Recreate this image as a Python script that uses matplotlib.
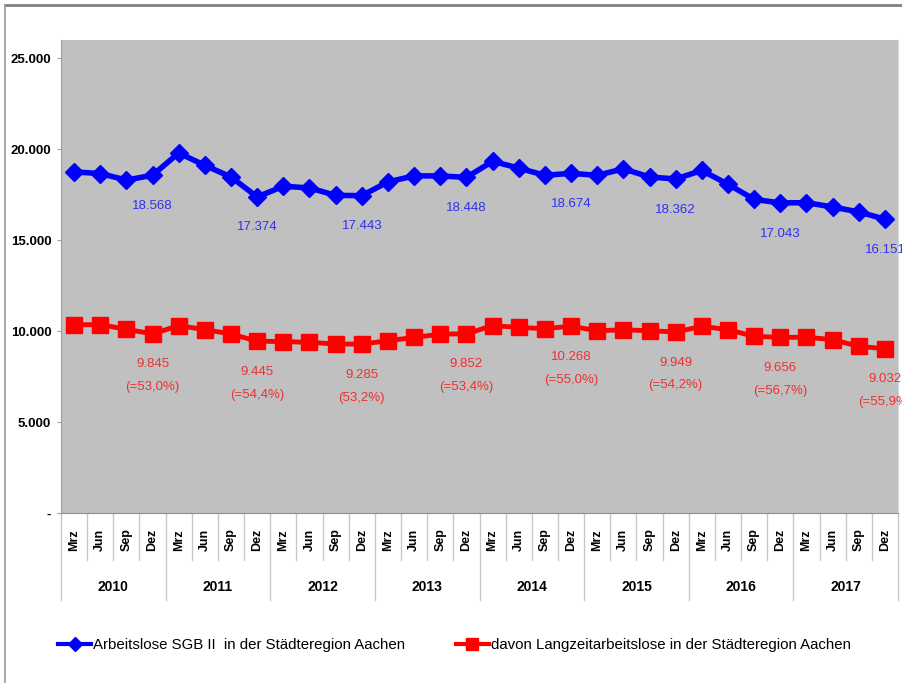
import matplotlib
matplotlib.use("Agg")
import matplotlib.pyplot as plt
from matplotlib.lines import Line2D
from matplotlib.transforms import blended_transform_factory

plt.rcParams['font.family'] = ['Liberation Sans', 'DejaVu Sans']

years = ['2010', '2011', '2012', '2013', '2014', '2015', '2016', '2017']
months = ['Mrz', 'Jun', 'Sep', 'Dez']
arbeitslose = [18750, 18660, 18300, 18568, 19790, 19110, 18470, 17374,
               17960, 17870, 17460, 17443, 18200, 18530, 18530, 18448,
               19330, 18960, 18560, 18674, 18560, 18920, 18470, 18362,
               18830, 18070, 17240, 17043, 17060, 16820, 16550, 16151]
langzeit = [10350, 10350, 10100, 9845, 10300, 10080, 9840, 9445,
            9420, 9380, 9290, 9285, 9470, 9650, 9830, 9852,
            10300, 10200, 10130, 10268, 10020, 10070, 10020, 9949,
            10260, 10080, 9710, 9656, 9660, 9530, 9160, 9032]
anteil = ['(=53,0%)', '(=54,4%)', '(53,2%)', '(=53,4%)',
          '(=55,0%)', '(=54,2%)', '(=56,7%)', '(=55,9%)']
yticks = [0, 5000, 10000, 15000, 20000, 25000]
ytick_labels = ['-', '5.000', '10.000', '15.000', '20.000', '25.000']
label1 = 'Arbeitslose SGB II  in der Städteregion Aachen'
label2 = 'davon Langzeitarbeitslose in der Städteregion Aachen'

def fmt(v):
    return f"{v:,}".replace(",", ".")

W, H = 902, 683
fig = plt.figure(figsize=(W / 100, H / 100), dpi=100)
L, R, T, B = 61, 898, 40, 513
ax = fig.add_axes([L / W, 1 - B / H, (R - L) / W, (B - T) / H])
ax.set_facecolor('#C0C0C0')

n = len(arbeitslose)
x = list(range(n))
ax.plot(x, arbeitslose, color='#0000FF', lw=4, marker='D', ms=9,
        mfc='#0000FF', mec='#0000FF', zorder=3)
ax.plot(x, langzeit, color='#FF0000', lw=3.5, marker='s', ms=11,
        mfc='#FF0000', mec='#FF0000', zorder=3)

ax.set_xlim(-0.5, n - 0.5)
ax.set_ylim(0, 26000)
ax.set_yticks(yticks)
ax.set_yticklabels(ytick_labels, fontsize=9.5, fontweight='bold')
ax.tick_params(axis='y', length=3, color='#A0A0A0', pad=4)
ax.set_xticks([])
ax.spines['top'].set_visible(False)
ax.spines['right'].set_color('#D8D8D8')
ax.spines['left'].set_color('#A0A0A0')
ax.spines['bottom'].set_color('#909090')

# data labels at each December
for k in range(len(years)):
    i = 4 * k + 3
    ax.annotate(fmt(arbeitslose[i]), (i, arbeitslose[i]), xytext=(0, -22),
                textcoords='offset points', ha='center', va='center',
                color='#3030F0', fontsize=9.5, annotation_clip=False)
    ax.annotate(fmt(langzeit[i]), (i, langzeit[i]), xytext=(0, -22),
                textcoords='offset points', ha='center', va='center',
                color='#F03030', fontsize=9.5, annotation_clip=False)
    ax.annotate(anteil[k], (i, langzeit[i]), xytext=(0, -38.5),
                textcoords='offset points', ha='center', va='center',
                color='#F03030', fontsize=9.5, annotation_clip=False)

# two-level category axis
tr = blended_transform_factory(ax.transData, ax.transAxes)
hpx = B - T
m_bot = -(560 - B) / hpx
y_bot = -(600 - B) / hpx
m_lab = -(540 - B) / hpx
y_lab = -(587 - B) / hpx
for i in range(n):
    ax.text(i, m_lab, months[i % 4], transform=tr, rotation=90,
            ha='center', va='center', fontsize=9, fontweight='bold')
for i in range(n + 1):
    bottom = y_bot if i % 4 == 0 else m_bot
    ax.plot([i - 0.5, i - 0.5], [0, bottom], transform=tr, color='#C8C8C8',
            lw=1, clip_on=False)
for k, yr in enumerate(years):
    ax.text(4 * k + 1.5, y_lab, yr, transform=tr, ha='center', va='center',
            fontsize=10, fontweight='bold')

# legend (two entries placed separately)
h1 = Line2D([], [], color='#0000FF', lw=3, marker='D', ms=7)
h2 = Line2D([], [], color='#FF0000', lw=3, marker='s', ms=9)
lg1 = fig.legend([h1], [label1], loc='center left',
                 bbox_to_anchor=(58 / W, 1 - 645 / H), frameon=False,
                 fontsize=10.8, handlelength=2.2, handletextpad=0.15,
                 borderpad=0, borderaxespad=0)
lg2 = fig.legend([h2], [label2], loc='center left',
                 bbox_to_anchor=(456 / W, 1 - 645 / H), frameon=False,
                 fontsize=10.8, handlelength=2.2, handletextpad=0.15,
                 borderpad=0, borderaxespad=0)

# outer frame
fig.add_artist(Line2D([5 / W, 1], [1 - 5 / H, 1 - 5 / H], color='#7F7F7F', lw=2))
fig.add_artist(Line2D([5 / W, 5 / W], [0, 1 - 5 / H], color='#9A9A9A', lw=1.2))

fig.savefig('out.png', dpi=100)
